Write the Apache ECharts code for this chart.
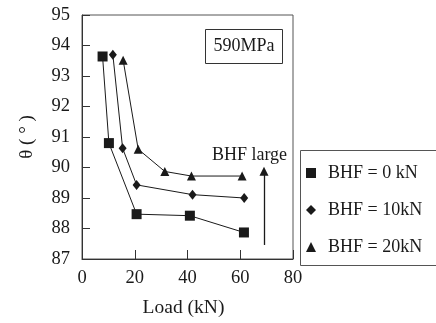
<!DOCTYPE html>
<html>
<head>
<meta charset="utf-8">
<script src="https://cdn.jsdelivr.net/npm/echarts@6/dist/echarts.min.js"></script>
<style>html,body{margin:0;padding:0;background:#fff}#c{width:436px;height:323px}</style>
</head>
<body>
<div id="c"></div>
<script>
const seriesNames = ['BHF = 0 kN', 'BHF = 10kN', 'BHF = 20kN'];
const loadBHF0 = [7.8, 10.2, 20.7, 40.9, 61.4];
const thetaBHF0 = [93.64, 90.8, 88.47, 88.42, 87.87];
const loadBHF10 = [11.7, 15.4, 20.7, 41.9, 61.5];
const thetaBHF10 = [93.70, 90.63, 89.43, 89.11, 89.0];
const loadBHF20 = [15.6, 21.3, 31.4, 41.5, 60.7];
const thetaBHF20 = [93.52, 90.6, 89.87, 89.72, 89.72];
const arrowLoad = 69;
const arrowTheta = [87.46, 89.88];
const xTicks = [0, 20, 40, 60, 80];
const yTicks = [87, 88, 89, 90, 91, 92, 93, 94, 95];

const FONT = "'Liberation Serif', 'Times New Roman', serif";
const INK = '#1a1a1a';
const FRAME = '#555';
const zip = (xs, ys) => xs.map((x, i) => [x, ys[i]]);

const chart = echarts.init(document.getElementById('c'), null, {renderer: 'canvas'});
chart.setOption({
  animation: false,
  backgroundColor: '#fff',
  grid: {left: 82, top: 15, right: 143, bottom: 57, show: true, borderColor: FRAME, borderWidth: 1},
  xAxis: {
    type: 'value', min: xTicks[0], max: xTicks[xTicks.length - 1], interval: 20,
    name: 'Load (kN)', nameLocation: 'middle', nameGap: 39,
    nameTextStyle: {fontFamily: FONT, fontSize: 19.5, color: INK, padding: [0, 8, 0, 0]},
    axisLine: {lineStyle: {color: '#333', width: 1}},
    axisTick: {inside: true, length: 9, lineStyle: {color: '#333'}},
    axisLabel: {fontFamily: FONT, fontSize: 18.5, color: INK, margin: 10},
    splitLine: {show: false}
  },
  yAxis: {
    type: 'value', min: yTicks[0], max: yTicks[yTicks.length - 1], interval: 1,
    name: 'θ ( ° )', nameLocation: 'middle', nameGap: 45, nameRotate: 90,
    nameTextStyle: {fontFamily: FONT, fontSize: 19, color: INK},
    axisLine: {lineStyle: {color: '#333', width: 1}},
    axisTick: {inside: true, length: 8, lineStyle: {color: '#333'}},
    axisLabel: {fontFamily: FONT, fontSize: 18.5, color: INK, margin: 12},
    splitLine: {show: false}
  },
  legend: {
    orient: 'vertical', left: 306, top: 164, padding: 0,
    itemWidth: 10, itemHeight: 10, itemGap: 19,
    lineStyle: {width: 0, opacity: 0},
    textStyle: {fontFamily: FONT, fontSize: 18, color: INK, padding: [0, 0, 0, 7]},
    data: [
      {name: seriesNames[0], icon: 'rect'},
      {name: seriesNames[1], icon: 'diamond'},
      {name: seriesNames[2], icon: 'triangle'}
    ]
  },
  graphic: [
    {type: 'rect', shape: {x: 300.5, y: 150.5, width: 150, height: 115}, style: {fill: 'none', stroke: FRAME, lineWidth: 1}, z: -1},
    {type: 'rect', shape: {x: 205.5, y: 29.5, width: 77, height: 34}, style: {fill: '#fff', stroke: '#333', lineWidth: 1}},
    {type: 'text', x: 244, y: 46.5, style: {text: '590MPa', fontFamily: FONT, fontSize: 18, fill: INK, align: 'center', verticalAlign: 'middle'}},
    {type: 'text', x: 249.5, y: 155, style: {text: 'BHF large', fontFamily: FONT, fontSize: 18, fill: INK, align: 'center', verticalAlign: 'middle'}}
  ],
  series: [
    {
      name: seriesNames[0], type: 'line', data: zip(loadBHF0, thetaBHF0),
      symbol: 'rect', symbolSize: 10,
      lineStyle: {color: INK, width: 1}, itemStyle: {color: INK}
    },
    {
      name: seriesNames[1], type: 'line', data: zip(loadBHF10, thetaBHF10),
      symbol: 'diamond', symbolSize: [8, 10],
      lineStyle: {color: INK, width: 1}, itemStyle: {color: INK}
    },
    {
      name: seriesNames[2], type: 'line', data: zip(loadBHF20, thetaBHF20),
      symbol: 'triangle', symbolSize: 9,
      lineStyle: {color: INK, width: 1}, itemStyle: {color: INK},
      markLine: {
        silent: true, symbol: ['none', 'triangle'], symbolSize: 9,
        lineStyle: {color: INK, width: 1.3, type: 'solid'},
        itemStyle: {color: INK},
        label: {show: false},
        data: [[{coord: [arrowLoad, arrowTheta[0]]}, {coord: [arrowLoad, arrowTheta[1]]}]]
      }
    }
  ]
});
</script>
</body>
</html>
